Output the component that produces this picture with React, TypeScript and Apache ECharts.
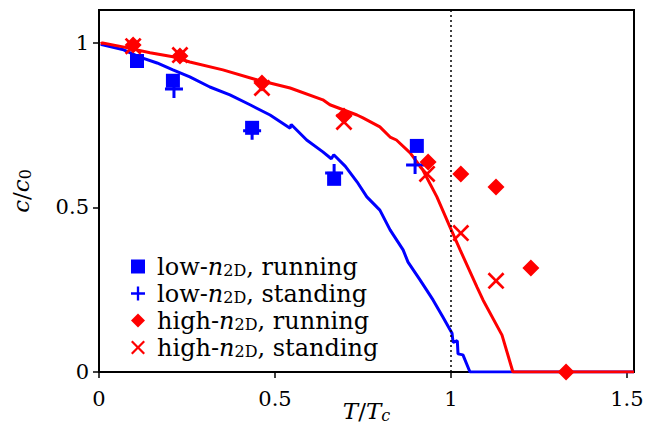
import React, { useEffect, useRef } from "react";
import * as echarts from "echarts";

// ---- data ----
const lowRunning: [number, number][] = [
  [0.108, 0.945], [0.21, 0.885], [0.435, 0.742], [0.668, 0.587], [0.903, 0.687],
];
const lowStanding: [number, number][] = [
  [0.213, 0.86], [0.435, 0.733], [0.668, 0.605], [0.898, 0.629],
];
const highRunning: [number, number][] = [
  [0.097, 0.994], [0.23, 0.96], [0.463, 0.878], [0.696, 0.778], [0.935, 0.638],
  [1.028, 0.602], [1.128, 0.562], [1.227, 0.316], [1.327, 0.0],
];
const highStanding: [number, number][] = [
  [0.097, 0.99], [0.23, 0.963], [0.463, 0.863], [0.696, 0.76], [0.932, 0.602],
  [1.028, 0.422], [1.128, 0.277],
];
const lowCurve: [number, number][] = [
  [0.005, 0.997], [0.01, 0.994], [0.07, 0.979], [0.116, 0.957], [0.165, 0.939],
  [0.21, 0.918], [0.258, 0.897], [0.315, 0.866], [0.372, 0.842], [0.429, 0.812],
  [0.486, 0.781], [0.543, 0.741], [0.546, 0.752], [0.59, 0.705], [0.636, 0.669],
  [0.66, 0.648], [0.667, 0.66], [0.7, 0.625], [0.733, 0.578], [0.761, 0.532],
  [0.798, 0.492], [0.827, 0.432], [0.864, 0.371], [0.878, 0.334], [0.912, 0.28],
  [0.949, 0.219], [0.977, 0.167], [1.003, 0.118], [1.006, 0.09], [1.018, 0.095],
  [1.02, 0.055], [1.034, 0.052], [1.054, 0.0], [1.52, 0.0],
];
const highCurve: [number, number][] = [
  [0.005, 0.997], [0.01, 1.0], [0.068, 0.988], [0.145, 0.97], [0.21, 0.958],
  [0.258, 0.942], [0.352, 0.918], [0.448, 0.888], [0.543, 0.863], [0.636, 0.827],
  [0.656, 0.812], [0.733, 0.781], [0.75, 0.772], [0.798, 0.745], [0.827, 0.714],
  [0.845, 0.705], [0.884, 0.666], [0.92, 0.614], [0.96, 0.532], [0.997, 0.441],
  [1.026, 0.371], [1.074, 0.258], [1.091, 0.219], [1.145, 0.112], [1.176, 0.0],
  [1.52, 0.0],
];
const xTicks = [0, 0.5, 1, 1.5];
const yTicks = [0, 0.5, 1];
const seriesNames = [
  "low-{i|n}{s|2D}, running",
  "low-{i|n}{s|2D}, standing",
  "high-{i|n}{s|2D}, running",
  "high-{i|n}{s|2D}, standing",
];

const FONT = "DejaVu Serif";
const BLUE = "#0000ff";
const RED = "#ff0000";
const PLUS = "path://M7.5,0 H10.5 V7.5 H18 V10.5 H10.5 V18 H7.5 V10.5 H0 V7.5 H7.5 Z";
const CROSS = "path://M0,2 L2,0 L9,7 L16,0 L18,2 L11,9 L18,16 L16,18 L9,11 L2,18 L0,16 L7,9 Z";

const legendRich = {
  i: { fontFamily: FONT, fontStyle: "italic" as const, fontSize: 24, color: "#000", lineHeight: 27 },
  s: { fontFamily: FONT, fontSize: 16, color: "#000", padding: [8, 0, 0, 0], lineHeight: 27 },
};

export default function App() {
  const ref = useRef<HTMLDivElement>(null);
  useEffect(() => {
    if (!ref.current) return;
    const chart = echarts.init(ref.current, undefined, { renderer: "svg" });
    chart.setOption({
      animation: false,
      backgroundColor: "#fff",
      grid: {
        left: 99, right: 27, top: 10, bottom: 61,
        show: true, borderColor: "#000", borderWidth: 2,
        outerBoundsMode: "none",
      },
      legend: {
        data: seriesNames,
        orient: "vertical",
        left: 126,
        top: 248,
        itemWidth: 14,
        itemHeight: 14,
        itemGap: 0,
        textStyle: {
          fontFamily: FONT, fontSize: 24, color: "#000", lineHeight: 27,
          padding: [0, 0, 0, 7], rich: legendRich,
        },
      },
      xAxis: {
        type: "value", min: 0, max: 1.52, interval: 0.5,
        name: "{i|T}/{i|T}{c|c}",
        nameLocation: "middle",
        nameGap: 27,
        nameMoveOverlap: false,
        nameTextStyle: {
          fontFamily: FONT, fontSize: 23, color: "#000",
          rich: {
            i: { fontFamily: FONT, fontStyle: "italic", fontSize: 23, color: "#000" },
            c: { fontFamily: FONT, fontStyle: "italic", fontSize: 16, color: "#000", padding: [8, 0, 0, 0] },
          },
        },
        axisLine: { show: true, lineStyle: { color: "#000", width: 2 } },
        axisTick: { show: true, inside: false, length: 6, lineStyle: { color: "#000", width: 1.5 }, customValues: xTicks },
        axisLabel: {
          fontFamily: FONT, fontSize: 21, color: "#000", margin: 16,
          customValues: xTicks,
          formatter: (v: number) => (xTicks.includes(v) ? String(v) : ""),
        },
        splitLine: { show: false },
      },
      yAxis: {
        type: "value", min: 0, max: 1.1, interval: 0.5,
        name: "{i|c}/{i|c}{s|0}",
        nameLocation: "middle",
        nameRotate: 90,
        nameGap: 66,
        nameMoveOverlap: false,
        nameTextStyle: {
          fontFamily: FONT, fontSize: 23, color: "#000",
          rich: {
            i: { fontFamily: FONT, fontStyle: "italic", fontSize: 23, color: "#000" },
            s: { fontFamily: FONT, fontSize: 16, color: "#000", padding: [8, 0, 0, 0] },
          },
        },
        axisLine: { show: true, lineStyle: { color: "#000", width: 2 } },
        axisTick: { show: true, inside: false, length: 6, lineStyle: { color: "#000", width: 1.5 }, customValues: yTicks },
        axisLabel: {
          fontFamily: FONT, fontSize: 21, color: "#000", margin: 10,
          customValues: yTicks,
          formatter: (v: number) => (yTicks.includes(v) ? String(v) : ""),
        },
        splitLine: { show: false },
      },
      series: [
        {
          type: "line", data: lowCurve, showSymbol: false, z: 2,
          lineStyle: { color: BLUE, width: 3 }, itemStyle: { color: BLUE },
          markLine: {
            silent: true, symbol: ["none", "none"], label: { show: false },
            lineStyle: { color: "#000", type: [2, 3], width: 1.5 },
            data: [{ xAxis: 1 }],
          },
        },
        {
          type: "line", data: highCurve, showSymbol: false, z: 2,
          lineStyle: { color: RED, width: 3 }, itemStyle: { color: RED },
        },
        {
          name: seriesNames[0], type: "scatter", data: lowRunning, z: 5,
          symbol: "rect", symbolSize: 14, itemStyle: { color: BLUE, opacity: 1 },
        },
        {
          name: seriesNames[1], type: "scatter", data: lowStanding, z: 5,
          symbol: PLUS, symbolSize: 18, itemStyle: { color: BLUE, opacity: 1 },
        },
        {
          name: seriesNames[2], type: "scatter", data: highRunning, z: 5,
          symbol: "diamond", symbolSize: 17, itemStyle: { color: RED, opacity: 1 },
        },
        {
          name: seriesNames[3], type: "scatter", data: highStanding, z: 5,
          symbol: CROSS, symbolSize: 17, itemStyle: { color: RED, opacity: 1 },
        },
      ],
    });
    return () => chart.dispose();
  }, []);
  return <div ref={ref} style={{ width: 661, height: 433, margin: -8 }} />;
}
